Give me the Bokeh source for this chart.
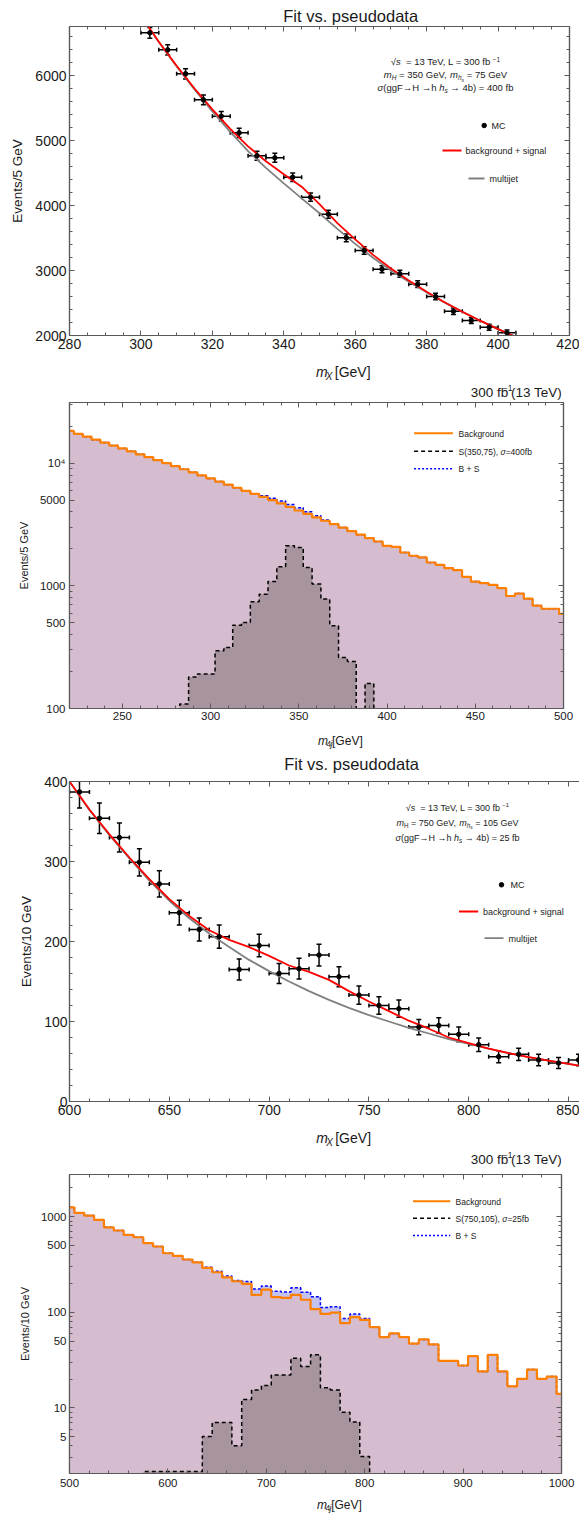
import math
from bokeh.plotting import figure
from bokeh.layouts import column
from bokeh.models import (Label, LinearAxis, LogAxis, FixedTicker, Range1d, Whisker,
                          TeeHead, ColumnDataSource, CustomJSTickFormatter)
from bokeh.embed import file_html
from bokeh.resources import INLINE

FONT = "Liberation Sans"
AXIS_COLOR = "#5a5a5a"
TEXT_COLOR = "#1a1a1a"
BKG_FILL = "#d5bdcf"
SIG_FILL = "#a8949e"
BS_FILL = "#c4c2ee"
ORANGE = "#ff8000"
BASE_FIX = 0.32   # compensates the renderer's baseline offset (fraction of font size)

# ---------------- Panel 1 data (fit vs pseudodata, mH=350) ----------------
p1_mc_x = [302.5, 307.5, 312.5, 317.5, 322.5, 327.5, 332.5, 337.5, 342.5, 347.5, 352.5,
           357.5, 362.5, 367.5, 372.5, 377.5, 382.5, 387.5, 392.5, 397.5, 402.5]
p1_mc_y = [6657, 6395, 6026, 5626, 5374, 5118, 4765, 4734, 4435, 4128, 3866,
           3503, 3308, 3020, 2949, 2790, 2600, 2374, 2231, 2128, 2041]
p1_mc_err = [82, 80, 78, 75, 73, 72, 69, 69, 67, 64, 62, 59, 58, 55, 54, 53, 51, 49, 47, 46, 45]
p1_curve_x = [300, 305, 310, 315, 320, 325, 330, 335, 340, 345, 350,
              355, 360, 365, 370, 375, 380, 385, 390, 395, 400, 405]
p1_multijet = [6917, 6517, 6139, 5784, 5449, 5133, 4836, 4580, 4340, 4110, 3880,
               3640, 3410, 3195, 3001, 2827, 2664, 2509, 2364, 2227, 2098, 1977]
p1_bkg_sig = [6917, 6520, 6150, 5800, 5480, 5180, 4910, 4680, 4480, 4290, 4020,
              3730, 3480, 3240, 3030, 2845, 2672, 2512, 2365, 2228, 2098, 1977]
p1_xticks = [280, 300, 320, 340, 360, 380, 400, 420]
p1_yticks = [2000, 3000, 4000, 5000, 6000]

# ---------------- Panel 2 data (histograms, 5 GeV bins) ----------------
p2_centers = list(range(220, 501, 5))
p2_background = [18330, 17340, 16410, 15520, 14690, 13900, 13180, 12470, 11800, 11170, 10570, 10000,
                 9440, 8910, 8410, 7940, 7500, 7070, 6670, 6300, 5940, 5610, 5300, 5000,
                 4690, 4390, 4110, 3850, 3610, 3390, 3180, 2980, 2790, 2610, 2450, 2296,
                 2118, 2080, 1868, 1757, 1702, 1549, 1483, 1393, 1342, 1183, 1083, 1051,
                 1019, 957, 826, 865, 785, 690, 650, 650, 590]
p2_bplus_s = [18330, 17340, 16410, 15520, 14690, 13900, 13180, 12470, 11800, 11170, 10570, 10000,
              9440, 8910, 8410, 7940, 7500, 7070, 6670, 6300, 5940, 5610, 5420, 5180,
              4900, 4600, 4320, 4020, 3720, 3440, 3180, 2980, 2790, 2610, 2450, 2296,
              2118, 2080, 1868, 1757, 1702, 1549, 1483, 1393, 1342, 1183, 1083, 1051,
              1019, 957, 826, 865, 785, 690, 650, 650, 590]
p2_signal = [0, 0, 0, 0, 0, 0, 0, 0, 0, 0, 0, 0,
             0, 109, 181, 191, 191, 295, 314, 478, 502, 741, 855, 1083,
             1429, 2118, 2052, 1409, 1033, 779, 472, 261, 242, 0, 160, 0,
             0, 0, 0, 0, 0, 0, 0, 0, 0, 0, 0, 0,
             0, 0, 0, 0, 0, 0, 0, 0, 0]
p2_xticks = [250, 300, 350, 400, 450, 500]
p2_yticks = [100, 500, 1000, 5000, 10000]

# ---------------- Panel 3 data (fit vs pseudodata, mH=750) ----------------
p3_mc_x = [605, 615, 625, 635, 645, 655, 665, 675, 685, 695, 705, 715, 725,
           735, 745, 755, 765, 775, 785, 795, 805, 815, 825, 835, 845, 855]
p3_mc_y = [387, 354, 330, 299, 272, 236, 215, 206, 165, 195, 160, 166, 183,
           156, 133, 120, 116, 93, 95, 84, 71, 56, 59, 52, 48, 52]
p3_mc_err = [20, 19, 18, 17, 16.5, 15.5, 14.5, 14.5, 13, 14, 12.5, 13, 13.5,
             12.5, 11.5, 11, 10.8, 9.6, 9.7, 9.2, 8.4, 7.5, 7.7, 7.2, 6.9, 7.2]
p3_curve_x = [600, 610, 620, 630, 640, 650, 660, 670, 680, 690, 700, 710, 720, 730,
              740, 750, 760, 770, 780, 790, 800, 810, 820, 830, 840, 850, 860]
p3_multijet = [400, 364, 333, 304, 276, 251, 229, 210, 193, 177, 163, 150, 138, 127,
               117, 108, 100, 92, 85, 78, 72, 66, 60.5, 55.5, 51, 47, 43]
p3_bkg_sig = [400, 365, 334, 305, 278, 253, 232, 214, 202, 193, 182, 170, 162, 152,
              138, 125, 113, 101, 91, 80, 73, 66, 60.5, 55.5, 51, 47, 43]
p3_xticks = [600, 650, 700, 750, 800, 850]
p3_yticks = [0, 100, 200, 300, 400]

# ---------------- Panel 4 data (histograms, 10 GeV bins) ----------------
p4_centers = list(range(500, 1001, 10))
p4_background = [1253, 1097, 1027, 925, 774, 716, 645, 609, 528, 487,
                 414, 389, 356, 333, 291, 262, 232, 211, 198, 152,
                 172, 144, 141, 152, 135, 108, 96, 99, 77, 89,
                 83, 70, 55, 60, 55, 47, 52, 46, 31, 31,
                 27.7, 34.7, 24, 35.8, 24, 16.8, 20.1, 25.1, 20.1, 21.2,
                 14]
p4_bplus_s = [1253, 1097, 1027, 925, 774, 716, 645, 609, 528, 487,
              414, 389, 356, 333, 296, 269, 239, 215, 210, 175,
              188, 166, 163, 180, 162, 145, 112, 114, 86, 96,
              86, 70, 55, 60, 55, 47, 52, 46, 31, 31,
              27.7, 34.7, 24, 35.8, 24, 16.8, 20.1, 25.1, 20.1, 21.2,
              14]
p4_signal = [0, 0, 0, 0, 0, 0, 0, 0, 2.15, 2.15,
             2.15, 2.15, 2.15, 2.15, 5.0, 7.0, 7.0, 4.0, 12.2, 15.4,
             17.1, 22.1, 22.1, 33, 27, 35.8, 16.2, 15.4, 9.0, 7.1,
             3.1, 0, 0, 0, 0, 0, 0, 0, 0, 0,
             0, 0, 0, 0, 0, 0, 0, 0, 0, 0,
             0]
p4_xticks = [500, 600, 700, 800, 900, 1000]
p4_yticks = [5, 10, 50, 100, 500, 1000]

# ---------------- helpers ----------------
W = {' ': 278, '!': 278, '(': 333, ')': 333, '+': 584, ',': 278, '-': 333, '.': 278, '/': 278,
     '=': 584, '[': 278, ']': 278, 'A': 667, 'B': 667, 'C': 722, 'D': 722, 'E': 667, 'F': 611,
     'G': 778, 'H': 722, 'I': 278, 'J': 500, 'K': 667, 'L': 556, 'M': 833, 'N': 722, 'O': 778,
     'P': 667, 'Q': 778, 'R': 722, 'S': 667, 'T': 611, 'U': 722, 'V': 667, 'W': 944, 'X': 667,
     'Y': 667, 'Z': 611, 'a': 556, 'b': 556, 'c': 500, 'd': 556, 'e': 556, 'f': 278, 'g': 556,
     'h': 556, 'i': 222, 'j': 222, 'k': 500, 'l': 222, 'm': 833, 'n': 556, 'o': 556, 'p': 556,
     'q': 556, 'r': 333, 's': 500, 't': 278, 'u': 556, 'v': 500, 'w': 722, 'x': 500, 'y': 500,
     'z': 500, '\u03c3': 600, '\u2192': 1000, '\u221a': 549, '\u2212': 584}


def tw(s, size):
    return sum(W.get(c, 556) for c in s) / 1000.0 * size


class Frame:
    """Maps page pixels to a figure frame (screen units relative to the frame)."""
    units = "screen"

    def __init__(self, left, top, w, h, x0, x1, y0, y1, logy=False):
        self.left, self.top, self.w, self.h = left, top, w, h
        self.x0, self.x1, self.y0, self.y1, self.logy = x0, x1, y0, y1, logy

    def dx(self, px):
        return self.x0 + (px - self.left) / self.w * (self.x1 - self.x0)

    def dy(self, py):
        f = (self.top + self.h - py) / self.h
        if self.logy:
            a, b = math.log10(self.y0), math.log10(self.y1)
            return 10 ** (a + f * (b - a))
        return self.y0 + f * (self.y1 - self.y0)

    def sx(self, px):
        return px - self.left

    def sy(self, py):
        return self.top + self.h - py


class Page:
    """Strip figures whose data coordinates are page pixels."""
    units = "data"

    def sx(self, px):
        return px

    def sy(self, py):
        return py


PAGE = Page()


def add_runs(p, fr, runs, px, base_py, align="center", color=TEXT_COLOR):
    total = sum(tw(t, s) for t, s, it, dy in runs)
    if align == "center":
        x = px - total / 2.0
    elif align == "left":
        x = px
    else:
        x = px - total
    for t, s, it, dy in runs:
        lead = len(t) - len(t.lstrip(" "))
        txt = t.strip(" ")
        if txt:
            p.add_layout(Label(x=fr.sx(x + tw(t[:lead], s)), y=fr.sy(base_py + dy - BASE_FIX * s),
                               x_units=fr.units, y_units=fr.units, text=txt,
                               text_font=FONT, text_font_size=f"{s}px",
                               text_font_style="italic" if it else "normal",
                               text_align="left", text_baseline="alphabetic",
                               text_color=color))
        x += tw(t, s)


def make_strip(x0, y0, w, h):
    s = figure(width=w, height=h, x_range=Range1d(x0, x0 + w), y_range=Range1d(y0 + h, y0),
               min_border=0, toolbar_location=None, x_axis_location=None,
               y_axis_location=None, output_backend="svg")
    s.title.visible = False
    s.outline_line_color = None
    s.background_fill_color = "white"
    s.border_fill_color = "white"
    s.xgrid.visible = False
    s.ygrid.visible = False
    return s


def make_fig(fr, bl, br, bt, bb, xticks, xminor, yticks, yminor, tick_fs,
             x_standoff, y_standoff, ylabel, ylabel_fs, ylabel_standoff,
             yfmt=None, hide_right_line=False):
    p = figure(x_range=Range1d(fr.x0, fr.x1), y_range=Range1d(fr.y0, fr.y1),
               y_axis_type="log" if fr.logy else "linear",
               frame_width=fr.w, frame_height=fr.h,
               min_border_left=bl, min_border_right=br,
               min_border_top=bt, min_border_bottom=bb,
               output_backend="svg", toolbar_location=None)
    p.title.visible = False
    p.outline_line_color = AXIS_COLOR
    p.outline_line_width = 1.2
    p.xgrid.visible = False
    p.ygrid.visible = False
    p.background_fill_color = "white"
    p.border_fill_color = "white"
    xa = p.xaxis[0]
    ya = p.yaxis[0]
    top = LinearAxis()
    right = LogAxis() if fr.logy else LinearAxis()
    p.add_layout(top, "above")
    p.add_layout(right, "right")
    for ax, ticks, minor, show, standoff in [(xa, xticks, xminor, True, x_standoff),
                                             (top, xticks, xminor, False, 0),
                                             (ya, yticks, yminor, True, y_standoff),
                                             (right, yticks, yminor, False, 0)]:
        ax.ticker = FixedTicker(ticks=ticks, minor_ticks=minor)
        ax.major_tick_in = 5
        ax.major_tick_out = 0
        ax.minor_tick_in = 3
        ax.minor_tick_out = 0
        ax.axis_line_color = AXIS_COLOR
        ax.axis_line_width = 1.2
        ax.major_tick_line_color = AXIS_COLOR
        ax.minor_tick_line_color = AXIS_COLOR
        ax.major_label_text_font = FONT
        ax.major_label_text_color = TEXT_COLOR
        ax.major_label_standoff = standoff
        ax.axis_label = None
        if show:
            ax.major_label_text_font_size = f"{tick_fs}px"
        else:
            ax.major_label_text_font_size = "0px"
            ax.formatter = CustomJSTickFormatter(code="return '';")
    ya.axis_label = ylabel
    ya.axis_label_text_font = FONT
    ya.axis_label_text_font_size = f"{ylabel_fs}px"
    ya.axis_label_text_font_style = "normal"
    ya.axis_label_text_color = TEXT_COLOR
    ya.axis_label_standoff = ylabel_standoff
    if yfmt is not None:
        ya.formatter = yfmt
    if hide_right_line:
        right.axis_line_alpha = 0
    return p


def steps(centers, vals, h, floor=None):
    xs, ys = [], []
    for c, v in zip(centers, vals):
        if floor is not None:
            v = max(v, floor)
        xs += [c - h, c + h]
        ys += [v, v]
    return xs, ys


def add_errors(p, xs, ys, errs, half):
    src = ColumnDataSource(dict(x=xs, y=ys,
                                lo=[y - e for y, e in zip(ys, errs)],
                                hi=[y + e for y, e in zip(ys, errs)],
                                xl=[x - half for x in xs],
                                xh=[x + half for x in xs]))
    p.add_layout(Whisker(source=src, base="x", lower="lo", upper="hi", dimension="height",
                         line_color="black", line_width=1.5,
                         upper_head=TeeHead(size=5, line_color="black", line_width=1.5),
                         lower_head=TeeHead(size=5, line_color="black", line_width=1.5)))
    p.add_layout(Whisker(source=src, base="y", lower="xl", upper="xh", dimension="width",
                         line_color="black", line_width=1.5,
                         upper_head=TeeHead(size=4, line_color="black", line_width=1.5),
                         lower_head=TeeHead(size=4, line_color="black", line_width=1.5)))
    p.scatter(xs, ys, size=4.5, color="black")


log_fmt = CustomJSTickFormatter(code="return (Math.abs(tick - 10000) < 1) ? '10\u2074' : String(Math.round(tick));")
log_fmt4 = CustomJSTickFormatter(code="return String(Math.round(tick));")

# ================= Strip A: title =================
stripA = make_strip(0, 0, 579, 25)
add_runs(stripA, PAGE, [("Fit vs. pseudodata", 16.5, False, 0)], 319, 20.7)

# ================= Panel 1 =================
fr1 = Frame(69, 26, 500, 309, 280, 420, 2000, 6754)
p1 = make_fig(fr1, 69, 10, 1, 20, p1_xticks, [v for v in range(280, 421, 5) if v % 20],
              p1_yticks, [v for v in range(2000, 6801, 200) if v % 1000], 14, 3, 3,
              "Events/5 GeV", 13.5, 7)
p1.line(p1_curve_x, p1_multijet, line_color="#808080", line_width=1.8)
p1.line(p1_curve_x, p1_bkg_sig, line_color="#ff0000", line_width=1.8)
add_errors(p1, p1_mc_x, p1_mc_y, p1_mc_err, 2.5)
fs = 9.5
add_runs(p1, fr1, [("\u221a", fs, False, 0), ("s", fs, True, 0), ("  = 13 TeV, L = 300 fb", fs, False, 0),
                   ("\u22121", 6.5, False, -3.5)], 445, 64.4)
add_runs(p1, fr1, [("m", fs, True, 0), ("H", 6.5, True, 2), (" = 350 GeV, ", fs, False, 0),
                   ("m", fs, True, 0), ("h", 6.5, True, 2), ("s", 5, True, 3.5),
                   (" = 75 GeV", fs, False, 0)], 445, 77.4)
add_runs(p1, fr1, [("\u03c3", fs, True, 0), ("(ggF\u2192H \u2192h ", fs, False, 0), ("h", fs, True, 0),
                   ("s", 6.5, True, 2), (" \u2192 4b) = 400 fb", fs, False, 0)], 445, 90.4)
p1.scatter([fr1.dx(483.7)], [fr1.dy(125)], size=4.5, color="black")
add_runs(p1, fr1, [("MC", 9, False, 0)], 491, 128.2, "left")
p1.segment(x0=[fr1.dx(442)], y0=[fr1.dy(150)], x1=[fr1.dx(461)], y1=[fr1.dy(150)],
           line_color="#ff0000", line_width=1.8)
add_runs(p1, fr1, [("background + signal", 9, False, 0)], 465, 153.2, "left")
p1.segment(x0=[fr1.dx(468)], y0=[fr1.dy(178)], x1=[fr1.dx(484)], y1=[fr1.dy(178)],
           line_color="#808080", line_width=1.8)
add_runs(p1, fr1, [("multijet", 9, False, 0)], 489, 181.2, "left")

stripB = make_strip(0, 355, 579, 45)
add_runs(stripB, PAGE, [("m", 14, True, 0), ("X", 10, True, 3), (" [GeV]", 14, False, 0)], 319, 376)
add_runs(stripB, PAGE, [("300 fb", 13.5, False, 0), ("\u22121", 8.5, False, -5.5),
                        ("(13 TeV)", 13.5, False, 0)], 572, 396, "right")

# ================= Panel 2 =================
fr2 = Frame(69, 402, 494, 306, 220, 500, 100, 31190, logy=True)
p2 = make_fig(fr2, 69, 16, 2, 18, p2_xticks, [v for v in range(220, 501, 10) if v % 50],
              p2_yticks, [200, 300, 400, 600, 700, 800, 900, 2000, 3000, 4000, 6000, 7000,
                          8000, 9000, 20000, 30000], 11.5, 3, 4,
              "Events/5 GeV", 11, 7, yfmt=log_fmt)
floor2 = 50
bx, by = steps(p2_centers, p2_background, 2.5)
_, bsy = steps(p2_centers, p2_bplus_s, 2.5)
_, sgy = steps(p2_centers, p2_signal, 2.5, floor=floor2)
p2.varea(x=bx, y1=[floor2] * len(bx), y2=by, fill_color=BKG_FILL)
p2.varea(x=bx, y1=by, y2=bsy, fill_color=BS_FILL)
p2.varea(x=bx, y1=[floor2] * len(bx), y2=sgy, fill_color=SIG_FILL)
p2.line(bx, bsy, line_color="#0000ff", line_width=1.5, line_dash="3 2")
p2.line(bx, by, line_color=ORANGE, line_width=2.2)
p2.line(bx, sgy, line_color="black", line_width=1.5, line_dash="4 3")
for y, col, dash in [(432.7, ORANGE, "solid"), (450.7, "black", "4 3"), (468.3, "#0000ff", "2 2")]:
    p2.segment(x0=[fr2.dx(413.6)], y0=[fr2.dy(y)], x1=[fr2.dx(452.4)], y1=[fr2.dy(y)],
               line_color=col, line_width=2 if col == ORANGE else 1.5, line_dash=dash)
add_runs(p2, fr2, [("Background", 8.5, False, 0)], 458, 435.8, "left")
add_runs(p2, fr2, [("S(350,75), ", 8.5, False, 0), ("\u03c3", 8.5, True, 0), ("=400fb", 8.5, False, 0)],
         458, 453.8, "left")
add_runs(p2, fr2, [("B + S", 8.5, False, 0)], 458, 471.4, "left")

stripC = make_strip(0, 726, 579, 47)
add_runs(stripC, PAGE, [("m", 12, True, 0), ("4", 8.5, False, 2.5), ("j", 8.5, True, 2.5),
                        ("[GeV]", 12, False, 0)], 316, 744)
add_runs(stripC, PAGE, [("Fit vs. pseudodata", 16.5, False, 0)], 320, 768.5)

# ================= Panel 3 =================
fr3 = Frame(61, 781, 518, 320, 600, 859.5, 0, 400)
p3 = make_fig(fr3, 61, 0, 8, 21, p3_xticks, [v for v in range(600, 861, 10) if v % 50],
              p3_yticks, [v for v in range(0, 401, 20) if v % 100], 14, 3, 2,
              "Events/10 GeV", 13.5, 7, hide_right_line=True)
p3.line(p3_curve_x, p3_multijet, line_color="#808080", line_width=1.8)
p3.line(p3_curve_x, p3_bkg_sig, line_color="#ff0000", line_width=1.8)
add_errors(p3, p3_mc_x, p3_mc_y, p3_mc_err, 5)
fs = 9
add_runs(p3, fr3, [("\u221a", fs, False, 0), ("s", fs, True, 0), ("  = 13 TeV, L = 300 fb", fs, False, 0),
                   ("\u22121", 6, False, -3.5)], 449, 810.2)
add_runs(p3, fr3, [("m", fs, True, 0), ("H", 6.3, False, 2), (" = 750 GeV, ", fs, False, 0),
                   ("m", fs, True, 0), ("h", 6.3, True, 2), ("s", 4.8, True, 3.5),
                   (" = 105 GeV", fs, False, 0)], 449, 824.9)
add_runs(p3, fr3, [("\u03c3", fs, True, 0), ("(ggF\u2192H \u2192h ", fs, False, 0), ("h", fs, True, 0),
                   ("s", 6.3, True, 2), (" \u2192 4b) = 25 fb", fs, False, 0)], 449, 839.9)
p3.scatter([fr3.dx(493)], [fr3.dy(884.3)], size=4.5, color="black")
add_runs(p3, fr3, [("MC", 9, False, 0)], 502, 887.5, "left")
p3.segment(x0=[fr3.dx(450.5)], y0=[fr3.dy(911)], x1=[fr3.dx(469.7)], y1=[fr3.dy(911)],
           line_color="#ff0000", line_width=1.8)
add_runs(p3, fr3, [("background + signal", 9, False, 0)], 474.5, 914.2, "left")
p3.segment(x0=[fr3.dx(476)], y0=[fr3.dy(937.7)], x1=[fr3.dx(495)], y1=[fr3.dy(937.7)],
           line_color="#808080", line_width=1.8)
add_runs(p3, fr3, [("multijet", 9, False, 0)], 500, 940.9, "left")

stripD = make_strip(0, 1122, 579, 50)
add_runs(stripD, PAGE, [("m", 14, True, 0), ("X", 10, True, 3), (" [GeV]", 14, False, 0)], 319.5, 1142)
add_runs(stripD, PAGE, [("300 fb", 13.5, False, 0), ("\u22121", 8.5, False, -5.5),
                        ("(13 TeV)", 13.5, False, 0)], 572, 1163, "right")

# ================= Panel 4 =================
fr4 = Frame(69, 1174, 492, 299, 500, 1000, 2.055, 2760, logy=True)
p4 = make_fig(fr4, 69, 18, 2, 19, p4_xticks, [v for v in range(500, 1001, 20) if v % 100],
              p4_yticks, [3, 4, 6, 7, 8, 9, 20, 30, 40, 60, 70, 80, 90, 200, 300, 400, 600, 700,
                          800, 900, 2000], 11.5, 5, 3,
              "Events/10 GeV", 11, 7, yfmt=log_fmt4)
floor4 = 1.0
bx, by = steps(p4_centers, p4_background, 5)
_, bsy = steps(p4_centers, p4_bplus_s, 5)
_, sgy = steps(p4_centers, p4_signal, 5, floor=floor4)
p4.varea(x=bx, y1=[floor4] * len(bx), y2=by, fill_color=BKG_FILL)
p4.varea(x=bx, y1=by, y2=bsy, fill_color=BS_FILL)
p4.varea(x=bx, y1=[floor4] * len(bx), y2=sgy, fill_color=SIG_FILL)
p4.line(bx, bsy, line_color="#0000ff", line_width=1.5, line_dash="3 2")
p4.line(bx, by, line_color=ORANGE, line_width=2.2)
p4.line(bx, sgy, line_color="black", line_width=1.5, line_dash="4 3")
for y, col, dash in [(1200.7, ORANGE, "solid"), (1217.7, "black", "4 3"), (1235, "#0000ff", "2 2")]:
    p4.segment(x0=[fr4.dx(412.5)], y0=[fr4.dy(y)], x1=[fr4.dx(449.8)], y1=[fr4.dy(y)],
               line_color=col, line_width=2 if col == ORANGE else 1.5, line_dash=dash)
add_runs(p4, fr4, [("Background", 8.5, False, 0)], 455, 1203.8, "left")
add_runs(p4, fr4, [("S(750,105), ", 8.5, False, 0), ("\u03c3", 8.5, True, 0), ("=25fb", 8.5, False, 0)],
         455, 1220.8, "left")
add_runs(p4, fr4, [("B + S", 8.5, False, 0)], 455, 1238.1, "left")

stripE = make_strip(0, 1492, 579, 23)
add_runs(stripE, PAGE, [("m", 12, True, 0), ("4", 8.5, False, 2.5), ("j", 8.5, True, 2.5),
                        ("[GeV]", 12, False, 0)], 315, 1508)

layout = column(stripA, p1, stripB, p2, stripC, p3, stripD, p4, stripE)
open("out.html", "w").write(file_html(layout, INLINE))
